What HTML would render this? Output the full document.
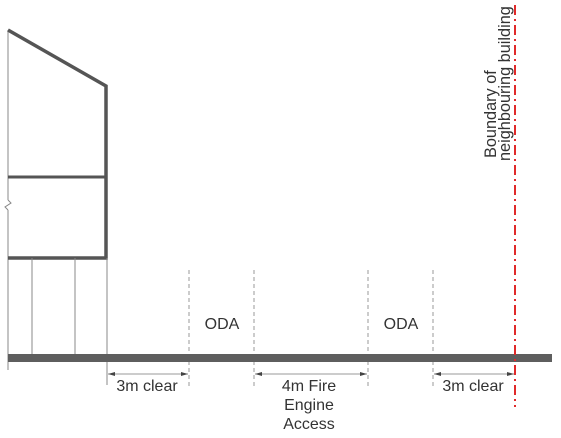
<!DOCTYPE html>
<html><head><style>
html,body{margin:0;padding:0;background:#fff;}
svg{display:block;}
text{font-family:"Liberation Sans",Arial,sans-serif;fill:#333;}
</style></head><body>
<svg width="561" height="438" viewBox="0 0 561 438" xmlns="http://www.w3.org/2000/svg">
<line x1="8" y1="30" x2="8" y2="200" stroke="#888" stroke-width="1"/>
<polyline points="8,200 11,203 5,207 8,210" fill="none" stroke="#888" stroke-width="1"/>
<line x1="8" y1="210" x2="8" y2="370" stroke="#888" stroke-width="1"/>
<polyline points="8,30 106,86 106,258 8,258" fill="none" stroke="#555" stroke-width="3.5"/>
<line x1="8" y1="177" x2="106" y2="177" stroke="#555" stroke-width="3"/>
<line x1="32" y1="258" x2="32" y2="355" stroke="#888" stroke-width="1"/>
<line x1="75" y1="258" x2="75" y2="355" stroke="#888" stroke-width="1"/>
<line x1="107" y1="258" x2="107" y2="385" stroke="#888" stroke-width="1"/>
<g stroke="#999" stroke-width="1" stroke-dasharray="4,3">
<line x1="189" y1="270" x2="189" y2="386"/>
<line x1="254" y1="270" x2="254" y2="386"/>
<line x1="368" y1="270" x2="368" y2="386"/>
<line x1="433" y1="270" x2="433" y2="386"/>
</g>
<rect x="8" y="354" width="544" height="8" fill="#5e5e5e"/>
<line x1="515" y1="5" x2="515" y2="407" stroke="#e02a2a" stroke-width="2" stroke-dasharray="10,4,2,4"/>
<g stroke="#999" stroke-width="1">
<line x1="108" y1="374" x2="188" y2="374"/>
<line x1="255" y1="374" x2="367" y2="374"/>
<line x1="434" y1="374" x2="514" y2="374"/>
</g>
<g fill="#444">
<polygon points="108,374 115,372 115,376"/><polygon points="188,374 181,372 181,376"/>
<polygon points="255,374 262,372 262,376"/><polygon points="367,374 360,372 360,376"/>
<polygon points="434,374 441,372 441,376"/><polygon points="514,374 507,372 507,376"/>
</g>
<g font-size="16" text-anchor="middle">
<text x="222" y="329">ODA</text>
<text x="401" y="329">ODA</text>
<text x="147" y="391">3m clear</text>
<text x="473" y="391">3m clear</text>
<text x="309" y="391">4m Fire</text>
<text x="309" y="410">Engine</text>
<text x="309" y="429">Access</text>
</g>
<g font-size="16.3">
<text transform="translate(496,158) rotate(-90)">Boundary of</text>
<text transform="translate(510,161) rotate(-90)">neighbouring building</text>
</g>
</svg>
</body></html>
